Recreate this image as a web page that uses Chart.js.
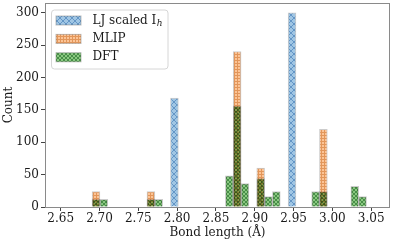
<!DOCTYPE html>
<html lang="en">
<head>
  <meta charset="UTF-8" />
  <title>Bond length histogram</title>
  <script src="https://cdn.jsdelivr.net/npm/chart.js"></script>
  <style>
    html, body { margin: 0; padding: 0; background: #fff; }
    .wrap { width: 393px; height: 244px; }
  </style>
</head>
<body>
  <div class="wrap"><canvas id="hist" width="393" height="244"></canvas></div>

  <script>
    // bin centres (Å) and counts
    const ljBins = [2.7965, 2.9480];
    const ljCounts = [168, 300];
    const mlipBins = [2.6955, 2.7662, 2.8773, 2.9076, 2.9884];
    const mlipCounts = [24, 24, 240, 60, 120];
    const dftBins = [2.6955, 2.7056, 2.7662, 2.7763, 2.8672, 2.8773, 2.8874,
                     2.9076, 2.9177, 2.9278, 2.9783, 2.9884, 3.0288, 3.0389];
    const dftCounts = [12, 12, 12, 12, 48, 156, 36, 44, 16, 24, 24, 24, 32, 16];

    const xTicks = [2.65, 2.70, 2.75, 2.80, 2.85, 2.90, 2.95, 3.00, 3.05];
    const yTicks = [0, 50, 100, 150, 200, 250, 300];

    const FONT = '"DejaVu Serif", "Liberation Serif", serif';
    Chart.defaults.font.family = FONT;
    Chart.defaults.color = '#1a1a1a';

    // small tiled hatch patterns, a bit like matplotlib's
    function hatch(bg, line, size, kind) {
        const c = document.createElement('canvas');
        c.width = c.height = size;
        const g = c.getContext('2d');
        g.fillStyle = bg;
        g.fillRect(0, 0, size, size);
        g.strokeStyle = line;
        g.lineWidth = 1;
        g.beginPath();
        if (kind === 'x') {
            g.moveTo(-1, -1); g.lineTo(size + 1, size + 1);
            g.moveTo(size + 1, -1); g.lineTo(-1, size + 1);
        } else {
            g.moveTo(0, 0.5); g.lineTo(size, 0.5);
            g.moveTo(0.5, 0); g.lineTo(0.5, size);
        }
        g.stroke();
        return g.createPattern(c, 'repeat');
    }

    const blueHatch = hatch('rgb(160,198,228)', 'rgb(100,150,198)', 6, 'x');
    const orangeHatch = hatch('rgb(252,196,150)', 'rgb(226,150,90)', 3, '+');
    const greenHatch = hatch('rgb(138,200,128)', 'rgb(72,142,72)', 4, 'x');

    const toPoints = (xs, ys) => xs.map((x, i) => ({ x: x, y: ys[i] }));

    // DFT is drawn last, multiplied over the MLIP bars
    const multiplyDft = {
        id: 'multiplyDft',
        beforeDraw(chart) {
            const ctx = chart.ctx;
            ctx.save();
            ctx.fillStyle = '#fff';
            ctx.fillRect(0, 0, chart.width, chart.height);
            ctx.restore();
        },
        beforeDatasetDraw(chart, args) {
            if (args.index === 2) {
                chart.ctx.save();
                chart.ctx.globalCompositeOperation = 'multiply';
            }
        },
        afterDatasetDraw(chart, args) {
            if (args.index === 2) chart.ctx.restore();
        }
    };

    // axes frame + legend box in the upper left, drawn over the bars
    const frameLegend = {
        id: 'frameLegend',
        afterDatasetsDraw(chart) {
            const ctx = chart.ctx;
            const a = chart.chartArea;
            ctx.save();
            ctx.strokeStyle = '#8a8a8a';
            ctx.lineWidth = 1;
            ctx.strokeRect(a.left + 0.5, a.top + 0.5, a.right - a.left - 1, a.bottom - a.top);

            const x0 = a.left + 6.5, y0 = a.top + 7;
            ctx.fillStyle = 'rgba(255,255,255,0.8)';
            ctx.strokeStyle = '#d6d6d6';
            ctx.beginPath();
            ctx.roundRect(x0, y0, 116.5, 59, 3);
            ctx.fill();
            ctx.stroke();

            ctx.font = '12px ' + FONT;
            ctx.textBaseline = 'middle';
            chart.data.datasets.forEach((ds, i) => {
                const cy = y0 + 10.5 + i * 18.4;
                ctx.fillStyle = ds.backgroundColor;
                ctx.fillRect(x0 + 4.5, cy - 4.5, 25, 9);
                ctx.strokeStyle = 'rgba(110,110,110,0.45)';
                ctx.strokeRect(x0 + 4.5, cy - 4.5, 25, 9);
                ctx.fillStyle = '#1a1a1a';
                ctx.font = '12px ' + FONT;
                ctx.fillText(ds.label, x0 + 41, cy);
                if (ds.sub) {
                    const w = ctx.measureText(ds.label).width;
                    ctx.font = 'italic 9px ' + FONT;
                    ctx.fillText(ds.sub, x0 + 41 + w + 0.5, cy + 3);
                }
            });
            ctx.restore();
        }
    };

    const barStyle = {
        grouped: false,
        barPercentage: 1,
        categoryPercentage: 1,
        borderWidth: 1,
        borderColor: 'rgba(110,110,110,0.35)'
    };

    new Chart(document.getElementById('hist'), {
        type: 'bar',
        data: {
            datasets: [
                Object.assign({ label: 'LJ scaled I', sub: 'h', data: toPoints(ljBins, ljCounts),
                                backgroundColor: blueHatch, order: 3 }, barStyle),
                Object.assign({ label: 'MLIP', data: toPoints(mlipBins, mlipCounts),
                                backgroundColor: orangeHatch, order: 2 }, barStyle),
                Object.assign({ label: 'DFT', data: toPoints(dftBins, dftCounts),
                                backgroundColor: greenHatch, order: 1 }, barStyle)
            ]
        },
        options: {
            responsive: false,
            animation: false,
            events: [],
            layout: { padding: { top: 3, right: 3, left: 0, bottom: 0 } },
            plugins: {
                legend: { display: false },
                tooltip: { enabled: false }
            },
            scales: {
                x: {
                    type: 'linear',
                    offset: false,
                    min: 2.6298,
                    max: 3.0742,
                    afterBuildTicks: (s) => { s.ticks = xTicks.map(v => ({ value: v })); },
                    afterFit: (s) => { s.height = 37; s.paddingLeft = 0; s.paddingRight = 0; },
                    ticks: {
                        font: { size: 12 },
                        padding: 1,
                        maxRotation: 0,
                        autoSkip: false,
                        callback: (v) => v.toFixed(2)
                    },
                    grid: { drawOnChartArea: false, offset: false, tickLength: 4, color: '#444' },
                    border: { display: false },
                    title: {
                        display: true,
                        text: 'Bond length (Å)',
                        font: { size: 12 },
                        padding: { top: 0, bottom: 4 }
                    }
                },
                y: {
                    min: 0,
                    max: 315,
                    afterBuildTicks: (s) => { s.ticks = yTicks.map(v => ({ value: v })); },
                    afterFit: (s) => { s.width = 45; s.paddingTop = 0; s.paddingBottom = 0; },
                    ticks: { font: { size: 12 }, padding: 2, autoSkip: false },
                    grid: { drawOnChartArea: false, tickLength: 4, color: '#444' },
                    border: { display: false },
                    title: {
                        display: true,
                        text: 'Count',
                        font: { size: 12 },
                        padding: { top: 2, bottom: 0 }
                    }
                }
            }
        },
        plugins: [multiplyDft, frameLegend]
    });
  </script>
</body>
</html>
